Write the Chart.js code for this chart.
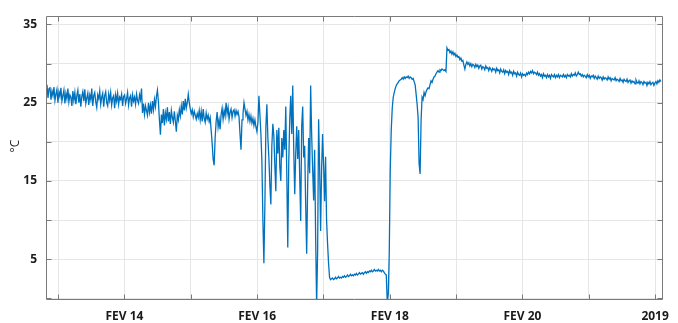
<!DOCTYPE html>
<html>
<head>
<meta charset="utf-8">
<script src="https://cdn.jsdelivr.net/npm/chart.js@4"></script>
<style>
  html, body { margin: 0; padding: 0; background: #fff; }
  #wrap { width: 678px; height: 323px; }
</style>
</head>
<body>
<div id="wrap"><canvas id="tempChart" width="678" height="323"></canvas></div>
<script>
// temperature samples, one every 0.015 day starting at day 12.802 (February)
const startDay = 12.802;
const stepDay = 0.015;
const temps = [
    27.7, 26.2, 27.3, 25.6, 26.8, 26.9, 25.4, 26.5, 25.9, 27.0,
    25.3, 26.1, 26.7, 25.0, 26.4, 25.8, 26.9, 25.2, 25.9, 26.6,
    24.9, 26.2, 25.5, 26.8, 25.1, 26.0, 25.7, 24.6, 26.5, 25.3,
    26.3, 24.8, 25.9, 26.6, 25.0, 26.1, 24.5, 25.8, 26.4, 25.2,
    26.7, 24.9, 25.6, 26.2, 24.7, 26.0, 25.4, 26.8, 24.6, 25.9,
    26.3, 25.1, 24.4, 26.0, 25.5, 26.5, 24.8, 25.7, 26.2, 24.5,
    25.9, 26.4, 25.0, 24.6, 26.1, 25.3, 26.3, 24.7, 25.6, 25.9,
    24.3, 26.0, 25.2, 26.2, 24.8, 25.7, 25.4, 26.1, 24.6, 25.8,
    26.0, 24.9, 25.5, 26.3, 24.7, 25.6, 25.9, 24.5, 26.0, 25.2,
    25.7, 24.8, 26.1, 25.3, 24.9, 26.0, 25.4, 26.8,
    23.7, 24.9, 23.5, 24.6, 24.0, 23.4, 25.0, 23.8, 24.7, 23.6,
    25.2, 24.1, 25.4, 24.5, 25.8, 26.6, 25.1,
    22.8, 20.9, 23.5, 22.4, 24.2, 22.1, 23.7, 22.9, 24.4, 22.6,
    23.8, 22.3, 24.0, 23.1, 22.5, 23.9, 22.7, 21.3, 23.4, 22.8,
    24.1, 23.3, 24.6, 23.5, 25.2, 24.0, 25.5, 24.3, 25.0, 26.1,
    25.0, 24.2, 23.6, 24.1, 23.2, 23.9, 23.4, 22.9, 23.6, 23.1, 24.0,
    22.8, 23.9, 22.6, 24.2, 23.0, 22.5, 23.7, 22.9, 23.4, 22.6,
    23.1, 21.5, 19.8, 17.8, 17.0, 20.5, 22.6, 23.8, 21.9, 22.8,
    21.6, 23.5, 24.3, 22.9, 24.0, 23.3, 25.0, 23.6, 24.4, 22.9,
    23.8, 24.2, 23.1, 23.9, 24.1, 23.3, 24.0, 23.5, 23.9, 23.2,
    21.0, 19.0, 22.8, 23.6, 25.0, 24.2, 23.4, 23.9, 22.8, 23.5,
    22.6, 23.3, 22.4, 23.0, 22.1, 22.8, 21.9, 21.3, 22.5,
    25.9, 23.5, 21.0, 17.5, 10.0, 4.5, 12.0, 21.9, 24.8, 20.5,
    18.0, 14.5, 12.0, 19.5, 22.3, 20.8, 17.0, 13.7, 21.5, 18.5,
    21.8, 16.8, 15.0, 20.5, 18.0, 21.5, 19.0, 24.5, 16.0, 6.5,
    17.5, 23.0, 25.9, 21.0, 27.2, 19.0, 13.3, 18.5, 22.0, 17.8,
    21.5, 15.5, 9.9, 22.0, 24.5, 18.0, 19.5, 12.0, 5.7, 14.5,
    20.5, 16.0, 27.2, 21.0, 16.5, 12.5, 19.0, 8.0, -0.8, 6.0,
    22.9, 17.0, 8.6, 16.5, 21.0, 17.0, 12.4, 18.1, 10.0, 7.0,
    4.5, 2.7, 2.4, 2.5,
    2.6, 2.4, 2.5, 2.7, 2.5, 2.6, 2.8, 2.6, 2.7, 2.6,
    2.8, 2.7, 2.9, 2.7, 2.8, 3.0, 2.8, 2.9, 3.1, 2.9,
    3.0, 2.9, 3.1, 3.0, 3.2, 3.0, 3.1, 3.3, 3.1, 3.2,
    3.3, 3.1, 3.3, 3.4, 3.2, 3.4, 3.3, 3.5, 3.4, 3.6,
    3.4, 3.5, 3.7, 3.5, 3.6, 3.5, 3.7, 3.5, 3.6, 3.4,
    3.6, 3.5, 3.3, 3.1, 3.0,
    -0.5, 0.5, 5.8, 16.4, 21.5, 24.3, 25.7, 26.3, 26.8, 27.2,
    27.4, 27.6, 27.8, 27.9, 28.0, 28.2, 28.0, 28.3, 28.1, 28.3,
    28.2, 28.4, 28.1, 28.3, 28.2, 28.0, 28.1, 27.7, 27.3, 26.1,
    24.8, 23.1, 17.2, 15.9, 22.8, 25.7, 25.4, 26.3, 25.9, 26.4,
    26.7, 26.9, 26.8, 27.3, 27.8, 27.6, 28.0, 28.3, 28.4, 28.7,
    28.9, 29.1, 28.9, 29.2, 29.1, 29.3, 29.2, 29.1, 29.2, 29.0,
    32.0, 31.7,
    31.8, 31.4, 31.6, 31.2, 31.5, 31.1, 31.3, 30.9, 31.1, 30.8,
    30.9, 30.5, 30.7, 30.3, 30.4, 29.8, 29.3, 29.9, 30.2, 29.9,
    30.1, 29.7, 30.0, 29.6, 29.9, 29.8, 29.5, 29.9, 29.6, 29.8,
    29.4, 29.7, 29.8, 29.3, 29.6, 29.5, 29.2, 29.7, 29.4, 29.5,
    29.1, 29.5, 29.3, 29.0, 29.4, 29.2, 29.3, 28.9, 29.4, 29.1,
    29.2, 28.8, 29.3, 29.0, 28.9, 29.2, 28.7, 29.1, 28.9, 29.0,
    28.6, 29.1, 28.8, 28.9, 28.5, 29.0, 28.7, 28.8, 28.4, 28.9,
    28.6, 28.5, 28.8, 28.3, 28.7, 28.5, 28.6, 28.4, 28.8, 28.6,
    28.9, 28.7, 29.0, 28.8, 29.1, 28.7, 28.9, 28.8, 28.6, 28.9,
    28.5, 28.7, 28.4, 28.6, 28.2, 28.7, 28.4, 28.5, 28.2, 28.6,
    28.3, 28.5, 28.1, 28.6, 28.4, 28.3, 28.6, 28.2, 28.5, 28.3,
    28.6, 28.2, 28.5, 28.4, 28.3, 28.6, 28.3, 28.5, 28.2, 28.6,
    28.4, 28.5, 28.3, 28.7, 28.4, 28.6, 28.5, 28.8, 28.4, 28.6,
    28.9, 28.6, 28.7, 28.4, 28.6, 28.3, 28.5, 28.4, 28.2, 28.6,
    28.3, 28.5, 28.1, 28.4, 28.3, 28.5, 28.1, 28.4, 28.2, 28.0,
    28.4, 28.1, 28.3, 28.2, 27.9, 28.3, 28.0, 28.2, 28.1, 27.9,
    28.3, 28.0, 28.2, 27.8, 28.1, 28.0, 27.9, 28.2, 27.8, 28.0,
    27.9, 27.7, 28.1, 27.8, 27.9, 27.6, 28.0, 27.8, 27.7, 28.0,
    27.6, 27.8, 27.9, 27.5, 27.8, 27.6, 27.7, 27.4, 27.9, 27.6,
    27.5, 27.8, 27.4, 27.7, 27.6, 27.3, 27.7, 27.5, 27.6, 27.2,
    27.6, 27.4, 27.7, 27.3, 27.5, 27.6, 27.2, 27.5, 27.7, 27.4,
    27.8, 27.6, 27.9, 27.7
];

const xTickDays = [13, 14, 15, 16, 17, 18, 19, 20, 21, 22];
const xTickLabels = ['', 'FEV 14', '', 'FEV 16', '', 'FEV 18', '', 'FEV 20', '', '2019'];
const yTickValues = [0, 5, 10, 15, 20, 25, 30, 35];
const yTickLabels = ['', '5', '', '15', '', '25', '', '35'];

const times = temps.map((_, i) => +(startDay + i * stepDay).toFixed(3));
const points = temps.map((t, i) => ({ x: times[i], y: t }));

const boxColor = '#7a7a7a';
const gridColor = '#e6e6e6';

// matlab-ish box with inward tick marks
const boxTicks = {
    id: 'boxTicks',
    afterDraw(chart) {
        const { ctx, chartArea: a, scales: { x, y } } = chart;
        const L = Math.round(a.left) + 0.5, R = Math.round(a.right) - 0.5;
        const T = Math.round(a.top) + 0.5, B = Math.round(a.bottom) - 0.5;
        ctx.save();
        ctx.strokeStyle = boxColor;
        ctx.lineWidth = 1;
        ctx.beginPath();
        xTickDays.forEach(d => {
            const px = Math.round(x.getPixelForValue(d)) + 0.5;
            ctx.moveTo(px, B); ctx.lineTo(px, B - 5);
            ctx.moveTo(px, T); ctx.lineTo(px, T + 5);
        });
        yTickValues.forEach(v => {
            const py = Math.round(y.getPixelForValue(v)) + 0.5;
            ctx.moveTo(L, py); ctx.lineTo(L + 5, py);
            ctx.moveTo(R, py); ctx.lineTo(R - 5, py);
        });
        ctx.moveTo(L, T); ctx.lineTo(R, T); ctx.lineTo(R, B); ctx.lineTo(L, B); ctx.closePath();
        ctx.stroke();
        ctx.restore();
    }
};

Chart.defaults.font.family = '"Open Sans", sans-serif';
Chart.defaults.color = '#1a1a1a';

const ctx = document.getElementById('tempChart').getContext('2d');
const tempChart = new Chart(ctx, {
    type: 'line',
    data: {
        datasets: [{
            data: points,
            borderColor: '#0072BD',
            borderWidth: 1.3,
            pointRadius: 0,
            tension: 0,
            fill: false
        }]
    },
    options: {
        responsive: false,
        animation: false,
        layout: { padding: { top: 12, right: 13, left: 0, bottom: 0 } },
        plugins: {
            legend: { display: false },
            tooltip: { enabled: false }
        },
        scales: {
            x: {
                type: 'linear',
                min: 12.817,
                max: 22.125,
                afterBuildTicks: s => { s.ticks = xTickDays.map(v => ({ value: v })); },
                afterFit: s => { s.height = 23; },
                grid: { color: gridColor, drawTicks: false },
                border: { display: false },
                ticks: {
                    autoSkip: false,
                    maxRotation: 0,
                    padding: 9,
                    font: { size: 12, weight: 'bold' },
                    callback: v => xTickLabels[xTickDays.indexOf(v)] || ''
                }
            },
            y: {
                min: -0.2,
                max: 36.05,
                afterBuildTicks: s => { s.ticks = yTickValues.map(v => ({ value: v })); },
                afterFit: s => { s.width = 46; },
                grid: { color: gridColor, drawTicks: false },
                border: { display: false },
                title: {
                    display: true,
                    text: '\u2003\u2003°C',
                    font: { size: 12 },
                    padding: { top: 8, bottom: 0 }
                },
                ticks: {
                    padding: 9,
                    font: { size: 12, weight: 'bold' },
                    callback: v => yTickLabels[yTickValues.indexOf(v)] || ''
                }
            }
        }
    },
    plugins: [boxTicks]
});
</script>
</body>
</html>
